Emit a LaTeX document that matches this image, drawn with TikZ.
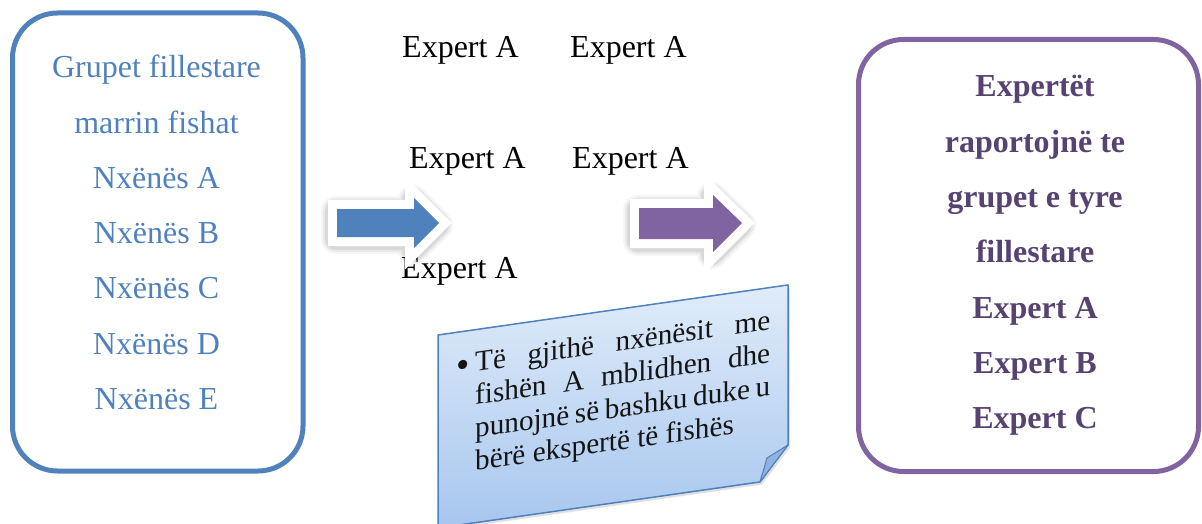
\documentclass[tikz,border=0pt]{standalone}
\usepackage{fontspec}
\setmainfont{Liberation Serif}
\definecolor{boxblue}{HTML}{4F81BD}
\definecolor{boxpurple}{HTML}{8064A2}
\definecolor{textpurple}{HTML}{574371}
\definecolor{notetop}{HTML}{E0ECFA}
\definecolor{notebottom}{HTML}{A7C6EE}
\definecolor{foldblue}{HTML}{8FB2E2}
\definecolor{notefont}{HTML}{141414}

\begin{document}
\begin{tikzpicture}[x=1pt,y=-1pt,
  groupbox/.style={line width=5pt, rounded corners=45pt},
  bigtext/.style={font=\fontsize{32}{38}\selectfont, inner sep=0pt, anchor=base},
  expert/.style={font=\fontsize{32}{38}\selectfont, inner sep=0pt, anchor=base west},
  arrowrim/.style={draw=white, line width=18pt, line join=miter},
  arrowglow/.style={draw=black, line join=round, shift={(-1,2)}},
  notetext/.style={font=\fontsize{29.2}{33}\selectfont, inner sep=0pt,
    text=notefont, text width=295pt, align=justify, anchor=base west}
]
\useasboundingbox (0,0) rectangle (1202,524);

% --- left group box ---
\draw[groupbox, draw=boxblue] (12.5,13) rectangle (303,471);
\foreach \t [count=\i] in {Grupet fillestare, marrin fishat, Nxënës A,
    Nxënës B, Nxënës C, Nxënës D, Nxënës E}
  \node[bigtext, text=boxblue] (g\i) at (156.5,{78+55.2*(\i-1)}) {\t};

% --- right group box ---
\draw[groupbox, draw=boxpurple] (858.5,39.5) rectangle (1198.5,471.5);
\foreach \t [count=\i] in {Expertët, raportojnë te, grupet e tyre,
    fillestare, Expert A, Expert B, Expert C}
  \node[bigtext, text=textpurple, font=\fontsize{32}{38}\selectfont\bfseries]
    (r\i) at (1035,{97+55.3*(\i-1)}) {\t};

% --- expert labels in the middle ---
\node[expert] (e1) at (402,58) {Expert A};
\node[expert] (e2) at (570,58) {Expert A};
\node[expert] (e3) at (409,168) {Expert A};
\node[expert] (e4) at (572,168) {Expert A};
\node[expert] (e5) at (401,278) {Expert A};

% --- blue block arrow ---
\foreach \w/\op in {30/0.035, 26/0.05, 22/0.07}
  \draw[arrowglow, line width=\w pt, opacity=\op]
    (337,209) -- (414,209) -- (414,198) -- (439,223) -- (414,248) -- (414,237) -- (337,237) -- cycle;
\draw[arrowrim]
  (337,209) -- (414,209) -- (414,198) -- (439,223) -- (414,248) -- (414,237) -- (337,237) -- cycle;
\fill[boxblue]
  (337,209) -- (414,209) -- (414,198) -- (439,223) -- (414,248) -- (414,237) -- (337,237) -- cycle;

% --- purple block arrow ---
\foreach \w/\op in {30/0.035, 26/0.05, 22/0.07}
  \draw[arrowglow, line width=\w pt, opacity=\op]
    (639,208) -- (713,208) -- (713,195) -- (742,223) -- (713,252) -- (713,239) -- (639,239) -- cycle;
\draw[arrowrim]
  (639,208) -- (713,208) -- (713,195) -- (742,223) -- (713,252) -- (713,239) -- (639,239) -- cycle;
\fill[boxpurple]
  (639,208) -- (713,208) -- (713,195) -- (742,223) -- (713,252) -- (713,239) -- (639,239) -- cycle;

% --- slanted sticky note ---
\begin{scope}[shift={(438,335)}, yslant=0.143, transform shape]
  \fill[black, opacity=0.12, shift={(2,3)}]
    (0,0) -- (350,0) -- (350,160) -- (322,193) -- (0,193) -- cycle;
  \shade[top color=notetop, bottom color=notebottom]
    (0,0) -- (350,0) -- (350,160) -- (322,193) -- (0,193) -- cycle;
  \draw[boxblue, line width=1.5pt, line join=round]
    (0,0) -- (350,0) -- (350,160) -- (322,193) -- (0,193) -- cycle;
  \draw[boxblue, line width=1pt, fill=foldblue, line join=round]
    (350,160) -- (322,193) -- (329,170) -- cycle;
  \node[notetext] (note) at (37,42)
    {\noindent\llap{\raisebox{-4pt}{\fontsize{38}{38}\selectfont\textbullet}\hspace{5pt}}Të gjithë nxënësit me\linebreak
     fishën A mblidhen dhe\linebreak punojnë së bashku duke u\linebreak
     bërë ekspertë të fishës};
\end{scope}
\end{tikzpicture}
\end{document}
